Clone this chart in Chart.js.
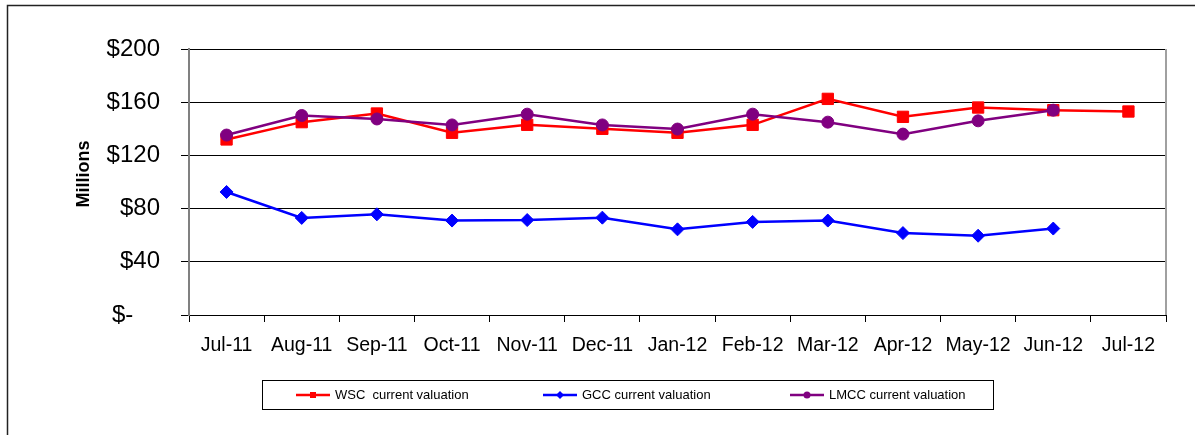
<!DOCTYPE html>
<html>
<head>
<meta charset="utf-8">
<script src="https://cdn.jsdelivr.net/npm/chart.js@4/dist/chart.umd.min.js"></script>
<style>
  html, body { margin: 0; padding: 0; background: #fff; }
  #wrap { width: 1195px; height: 435px; }
</style>
</head>
<body>
<div id="wrap"><canvas id="valChart" width="1195" height="435"></canvas></div>
<script>
// months on the x axis
var months = ['Jul-11', 'Aug-11', 'Sep-11', 'Oct-11', 'Nov-11', 'Dec-11', 'Jan-12',
  'Feb-12', 'Mar-12', 'Apr-12', 'May-12', 'Jun-12', 'Jul-12'];

// values in $ millions
var wscValues = [132, 145, 151.5, 137, 143, 140, 137, 143, 162.5, 149, 156, 154, 153];
var gccValues = [92.5, 73, 75.7, 71, 71.4, 73.2, 64.4, 70, 71, 61.6, 59.6, 65, null];
var lmccValues = [135.3, 150, 147.4, 142.9, 151, 142.9, 139.8, 151, 145, 136, 146, 154, null];

var seriesNames = ['WSC  current valuation', 'GCC current valuation', 'LMCC current valuation'];
var yTicks = [0, 40, 80, 120, 160, 200];

var FONT = 'Liberation Sans, Arial, sans-serif';

// frame, right border of plot, axis title and the boxed legend
var extrasPlugin = {
  id: 'extras',
  afterDraw: function (chart) {
    var ctx = chart.ctx, area = chart.chartArea;
    ctx.save();
    // outer frame
    ctx.strokeStyle = '#222';
    ctx.lineWidth = 1.5;
    ctx.strokeRect(7.5, 5.5, 1300, 500);
    // right edge of plot area
    ctx.strokeStyle = '#a0a0a0';
    ctx.lineWidth = 2;
    ctx.beginPath();
    ctx.moveTo(area.right, area.top);
    ctx.lineTo(area.right, area.bottom);
    ctx.stroke();
    // y axis title
    ctx.fillStyle = '#000';
    ctx.font = 'bold 18px ' + FONT;
    ctx.textAlign = 'center';
    ctx.textBaseline = 'middle';
    ctx.translate(84, 174);
    ctx.rotate(-Math.PI / 2);
    ctx.fillText('Millions', 0, 0);
    ctx.restore();

    // legend
    ctx.save();
    ctx.strokeStyle = '#000';
    ctx.lineWidth = 1;
    ctx.strokeRect(262.5, 380.5, 731, 29);
    var starts = [296, 543, 790];
    var ly = 395;
    chart.data.datasets.forEach(function (ds, i) {
      var x0 = starts[i];
      ctx.strokeStyle = ds.borderColor;
      ctx.lineWidth = 2.5;
      ctx.beginPath();
      ctx.moveTo(x0, ly);
      ctx.lineTo(x0 + 34, ly);
      ctx.stroke();
      ctx.fillStyle = ds.borderColor;
      ctx.beginPath();
      if (ds.pointStyle === 'rect') ctx.rect(x0 + 14, ly - 3, 6, 6);
      else if (ds.pointStyle === 'rectRot') {
        ctx.moveTo(x0 + 17, ly - 4); ctx.lineTo(x0 + 21, ly);
        ctx.lineTo(x0 + 17, ly + 4); ctx.lineTo(x0 + 13, ly);
      } else ctx.arc(x0 + 17, ly, 3.5, 0, Math.PI * 2);
      ctx.fill();
      ctx.fillStyle = '#000';
      ctx.font = '13px ' + FONT;
      ctx.textAlign = 'left';
      ctx.textBaseline = 'middle';
      ctx.fillText(seriesNames[i], x0 + 39, ly);
    });
    ctx.restore();
  }
};

var ctx = document.getElementById('valChart').getContext('2d');
new Chart(ctx, {
  type: 'line',
  data: {
    labels: months,
    datasets: [
      {
        label: seriesNames[0],
        data: wscValues,
        borderColor: '#ff0000',
        backgroundColor: '#ff0000',
        borderWidth: 2.5,
        pointStyle: 'rect',
        pointRadius: 8,
        pointBorderWidth: 1,
        tension: 0,
        order: 2
      },
      {
        label: seriesNames[1],
        data: gccValues,
        borderColor: '#0000ff',
        backgroundColor: '#0000ff',
        borderWidth: 2.5,
        pointStyle: 'rectRot',
        pointRadius: 6.5,
        pointBorderWidth: 1,
        tension: 0,
        order: 1
      },
      {
        label: seriesNames[2],
        data: lmccValues,
        borderColor: '#800080',
        backgroundColor: '#800080',
        borderWidth: 2.5,
        pointStyle: 'circle',
        pointRadius: 6,
        pointBorderWidth: 1,
        tension: 0,
        order: 0
      }
    ]
  },
  options: {
    responsive: false,
    animation: false,
    layout: { padding: { left: 0, top: 49, right: 29, bottom: 0 } },
    plugins: {
      legend: { display: false },
      tooltip: { enabled: false }
    },
    scales: {
      x: {
        offset: true,
        grid: {
          offset: true,
          drawOnChartArea: false,
          drawTicks: true,
          tickLength: 7,
          color: '#000'
        },
        border: { color: '#000', width: 1 },
        ticks: {
          color: '#000',
          font: { family: FONT, size: 19.5 },
          padding: 12,
          maxRotation: 0,
          autoSkip: false
        },
        afterFit: function (scale) { scale.height = 120; }
      },
      y: {
        min: 0,
        max: 200,
        afterBuildTicks: function (scale) {
          scale.ticks = yTicks.map(function (v) { return { value: v }; });
        },
        grid: {
          color: '#000',
          lineWidth: 1,
          tickLength: 8
        },
        border: { color: '#808080', width: 2 },
        ticks: {
          color: '#000',
          font: { family: FONT, size: 24 },
          padding: 21,
          callback: function (v) { return v === 0 ? '$-    ' : '$' + v; }
        },
        afterFit: function (scale) { scale.width = 189; }
      }
    }
  },
  plugins: [extrasPlugin]
});
</script>
</body>
</html>
